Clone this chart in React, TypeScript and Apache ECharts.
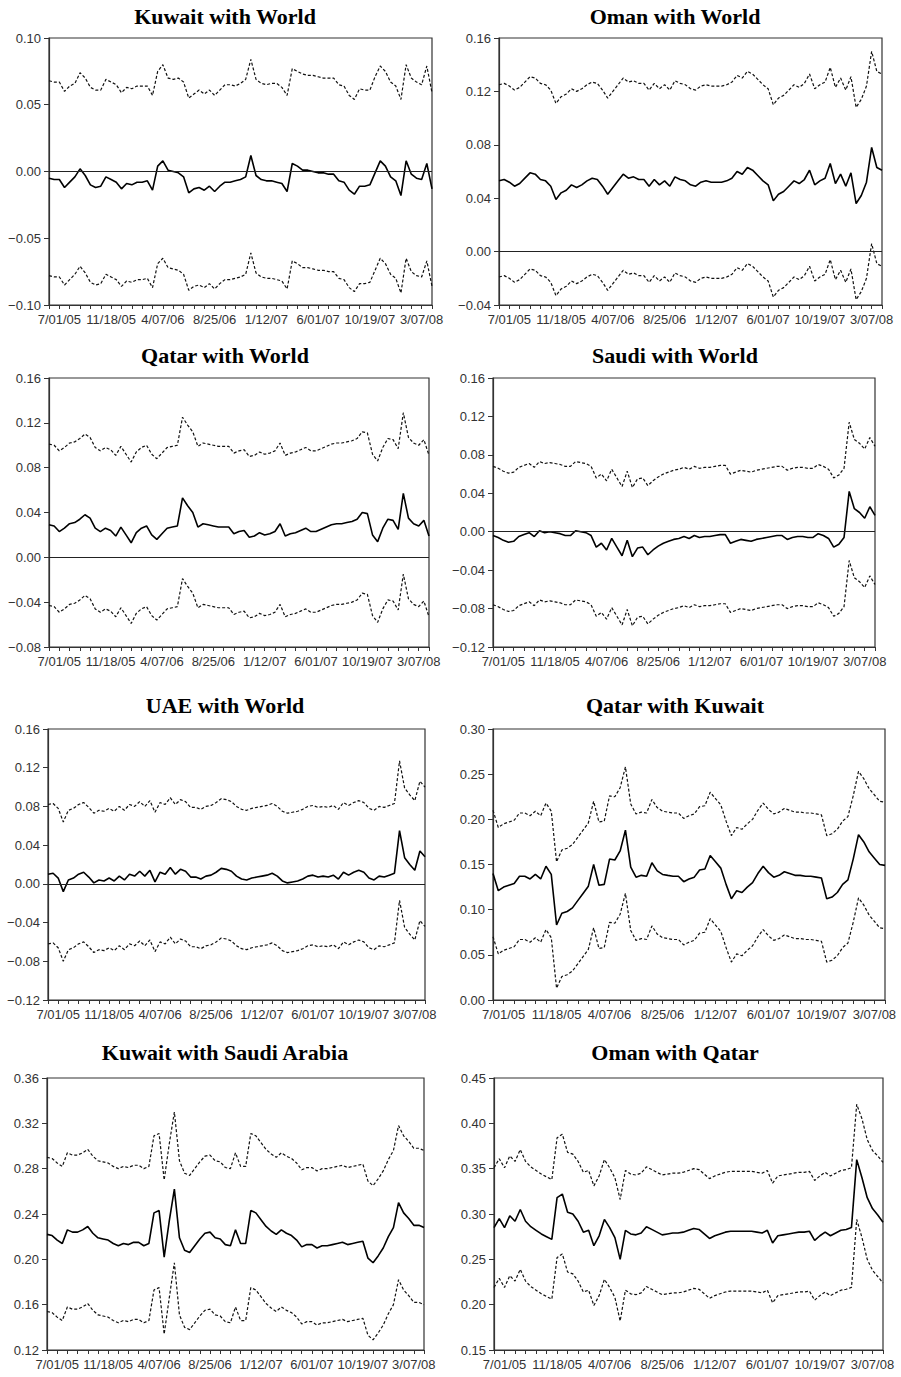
import React, { useEffect, useRef } from "react";
import * as echarts from "echarts";

// ---- x axis: one point every 10 trading days, label every 100 trading days ----
const tickLabels = ["7/01/05", "11/18/05", "4/07/06", "8/25/06", "1/12/07", "6/01/07", "10/19/07", "3/07/08"];
const pointCount = 75;
const firstLabelIndex = 2;
const labelStep = 10;

// ---- Kuwait with World ----
const kwWorldUpper = [0.068,0.067,0.067,0.060,0.064,0.066,0.074,0.070,0.063,0.061,
0.061,0.069,0.067,0.065,0.059,0.063,0.062,0.064,0.064,0.064,
0.057,0.075,0.080,0.070,0.069,0.070,0.067,0.055,0.058,0.061,
0.058,0.061,0.057,0.061,0.065,0.065,0.064,0.066,0.069,0.084,
0.069,0.066,0.065,0.066,0.066,0.063,0.057,0.077,0.075,0.073,
0.072,0.072,0.071,0.070,0.070,0.070,0.065,0.064,0.057,0.054,
0.062,0.061,0.061,0.071,0.079,0.075,0.067,0.064,0.054,0.080,
0.070,0.067,0.065,0.079,0.059];
const kwWorldMid = [-0.005,-0.006,-0.006,-0.012,-0.008,-0.004,0.002,-0.003,-0.010,-0.012,
-0.011,-0.004,-0.006,-0.008,-0.013,-0.009,-0.010,-0.008,-0.008,-0.007,
-0.014,0.004,0.008,0.001,0.000,-0.001,-0.004,-0.016,-0.013,-0.012,
-0.014,-0.011,-0.015,-0.011,-0.008,-0.008,-0.007,-0.006,-0.004,0.012,
-0.003,-0.006,-0.007,-0.007,-0.008,-0.009,-0.015,0.006,0.004,0.001,
0.001,0.000,-0.001,-0.001,-0.002,-0.002,-0.007,-0.008,-0.014,-0.017,
-0.011,-0.011,-0.010,-0.001,0.008,0.004,-0.004,-0.007,-0.018,0.008,
-0.002,-0.005,-0.006,0.006,-0.013];
const kwWorldLower = [-0.078,-0.079,-0.079,-0.085,-0.081,-0.077,-0.071,-0.076,-0.083,-0.085,
-0.084,-0.077,-0.079,-0.081,-0.086,-0.082,-0.083,-0.081,-0.081,-0.080,
-0.087,-0.069,-0.065,-0.072,-0.073,-0.074,-0.077,-0.089,-0.086,-0.085,
-0.087,-0.084,-0.088,-0.084,-0.081,-0.081,-0.080,-0.079,-0.077,-0.061,
-0.076,-0.079,-0.080,-0.080,-0.081,-0.082,-0.088,-0.067,-0.069,-0.072,
-0.072,-0.073,-0.074,-0.074,-0.075,-0.075,-0.080,-0.081,-0.087,-0.090,
-0.084,-0.084,-0.083,-0.074,-0.065,-0.069,-0.077,-0.080,-0.091,-0.065,
-0.075,-0.078,-0.079,-0.067,-0.086];

// ---- Oman with World ----
const omWorldUpper = [0.125,0.126,0.124,0.121,0.123,0.127,0.131,0.130,0.126,0.125,
0.121,0.111,0.116,0.118,0.122,0.120,0.122,0.125,0.127,0.126,
0.121,0.115,0.120,0.125,0.130,0.127,0.128,0.126,0.126,0.121,
0.126,0.122,0.125,0.121,0.128,0.126,0.125,0.122,0.121,0.124,
0.125,0.124,0.124,0.124,0.125,0.127,0.132,0.130,0.135,0.133,
0.129,0.125,0.122,0.110,0.115,0.117,0.121,0.125,0.123,0.126,
0.133,0.122,0.125,0.127,0.138,0.123,0.130,0.121,0.131,0.108,
0.114,0.124,0.150,0.135,0.133];
const omWorldMid = [0.053,0.054,0.052,0.049,0.051,0.055,0.059,0.058,0.054,0.053,
0.049,0.039,0.044,0.046,0.050,0.048,0.050,0.053,0.055,0.054,
0.049,0.043,0.048,0.053,0.058,0.055,0.056,0.054,0.054,0.049,
0.054,0.050,0.053,0.049,0.056,0.054,0.053,0.050,0.049,0.052,
0.053,0.052,0.052,0.052,0.053,0.055,0.060,0.058,0.063,0.061,
0.057,0.053,0.050,0.038,0.043,0.045,0.049,0.053,0.051,0.054,
0.061,0.050,0.053,0.055,0.066,0.051,0.058,0.049,0.059,0.036,
0.042,0.052,0.078,0.063,0.061];
const omWorldLower = [-0.019,-0.018,-0.020,-0.023,-0.021,-0.017,-0.013,-0.014,-0.018,-0.019,
-0.023,-0.033,-0.028,-0.026,-0.022,-0.024,-0.022,-0.019,-0.017,-0.018,
-0.023,-0.029,-0.024,-0.019,-0.014,-0.017,-0.016,-0.018,-0.018,-0.023,
-0.018,-0.022,-0.019,-0.023,-0.016,-0.018,-0.019,-0.022,-0.023,-0.020,
-0.019,-0.020,-0.020,-0.020,-0.019,-0.017,-0.012,-0.014,-0.009,-0.011,
-0.015,-0.019,-0.022,-0.034,-0.029,-0.027,-0.023,-0.019,-0.021,-0.018,
-0.011,-0.022,-0.019,-0.017,-0.006,-0.021,-0.014,-0.023,-0.013,-0.036,
-0.030,-0.020,0.006,-0.009,-0.011];

// ---- Qatar with World ----
const qaWorldUpper = [0.101,0.100,0.095,0.098,0.102,0.103,0.106,0.110,0.107,0.098,
0.095,0.098,0.096,0.091,0.099,0.092,0.085,0.094,0.098,0.100,
0.092,0.088,0.093,0.098,0.099,0.100,0.125,0.118,0.112,0.099,
0.102,0.101,0.100,0.099,0.099,0.099,0.093,0.095,0.096,0.090,
0.091,0.094,0.092,0.093,0.095,0.102,0.091,0.093,0.094,0.096,
0.098,0.095,0.095,0.097,0.099,0.101,0.102,0.102,0.103,0.104,
0.106,0.112,0.111,0.092,0.086,0.098,0.106,0.105,0.097,0.129,
0.107,0.102,0.100,0.105,0.091];
const qaWorldMid = [0.029,0.028,0.023,0.026,0.030,0.031,0.034,0.038,0.035,0.026,
0.023,0.026,0.024,0.019,0.027,0.020,0.013,0.022,0.026,0.028,
0.020,0.016,0.021,0.026,0.027,0.028,0.053,0.046,0.040,0.027,
0.030,0.029,0.028,0.027,0.027,0.027,0.021,0.023,0.024,0.018,
0.019,0.022,0.020,0.021,0.023,0.030,0.019,0.021,0.022,0.024,
0.026,0.023,0.023,0.025,0.027,0.029,0.030,0.030,0.031,0.032,
0.034,0.040,0.039,0.020,0.014,0.026,0.034,0.033,0.025,0.057,
0.035,0.030,0.028,0.033,0.019];
const qaWorldLower = [-0.043,-0.044,-0.049,-0.046,-0.042,-0.041,-0.038,-0.034,-0.037,-0.046,
-0.049,-0.046,-0.048,-0.053,-0.045,-0.052,-0.059,-0.050,-0.046,-0.044,
-0.052,-0.056,-0.051,-0.046,-0.045,-0.044,-0.019,-0.026,-0.032,-0.045,
-0.042,-0.043,-0.044,-0.045,-0.045,-0.045,-0.051,-0.049,-0.048,-0.054,
-0.053,-0.050,-0.052,-0.051,-0.049,-0.042,-0.053,-0.051,-0.050,-0.048,
-0.046,-0.049,-0.049,-0.047,-0.045,-0.043,-0.042,-0.042,-0.041,-0.040,
-0.038,-0.032,-0.033,-0.052,-0.058,-0.046,-0.038,-0.039,-0.047,-0.015,
-0.037,-0.042,-0.044,-0.039,-0.053];

// ---- Saudi with World ----
const saWorldUpper = [0.068,0.066,0.063,0.061,0.062,0.067,0.069,0.071,0.067,0.073,
0.071,0.072,0.071,0.070,0.068,0.068,0.073,0.072,0.071,0.068,
0.056,0.060,0.053,0.065,0.056,0.047,0.063,0.046,0.055,0.056,
0.048,0.053,0.057,0.060,0.062,0.064,0.065,0.067,0.065,0.068,
0.066,0.067,0.067,0.068,0.069,0.069,0.060,0.062,0.064,0.063,
0.062,0.064,0.065,0.066,0.067,0.068,0.068,0.064,0.066,0.067,
0.067,0.066,0.066,0.070,0.068,0.065,0.056,0.059,0.066,0.114,
0.096,0.092,0.086,0.098,0.089];
const saWorldMid = [-0.004,-0.006,-0.009,-0.011,-0.010,-0.005,-0.003,-0.001,-0.005,0.001,
-0.001,0.000,-0.001,-0.002,-0.004,-0.004,0.001,0.000,-0.001,-0.004,
-0.016,-0.012,-0.019,-0.007,-0.016,-0.025,-0.009,-0.026,-0.017,-0.016,
-0.024,-0.019,-0.015,-0.012,-0.010,-0.008,-0.007,-0.005,-0.007,-0.004,
-0.006,-0.005,-0.005,-0.004,-0.003,-0.003,-0.012,-0.010,-0.008,-0.009,
-0.010,-0.008,-0.007,-0.006,-0.005,-0.004,-0.004,-0.008,-0.006,-0.005,
-0.005,-0.006,-0.006,-0.002,-0.004,-0.007,-0.016,-0.013,-0.006,0.042,
0.024,0.020,0.014,0.026,0.017];
const saWorldLower = [-0.076,-0.078,-0.081,-0.083,-0.082,-0.077,-0.075,-0.073,-0.077,-0.071,
-0.073,-0.072,-0.073,-0.074,-0.076,-0.076,-0.071,-0.072,-0.073,-0.076,
-0.088,-0.084,-0.091,-0.079,-0.088,-0.097,-0.081,-0.098,-0.089,-0.088,
-0.096,-0.091,-0.087,-0.084,-0.082,-0.080,-0.079,-0.077,-0.079,-0.076,
-0.078,-0.077,-0.077,-0.076,-0.075,-0.075,-0.084,-0.082,-0.080,-0.081,
-0.082,-0.080,-0.079,-0.078,-0.077,-0.076,-0.076,-0.080,-0.078,-0.077,
-0.077,-0.078,-0.078,-0.074,-0.076,-0.079,-0.088,-0.085,-0.078,-0.030,
-0.048,-0.052,-0.058,-0.046,-0.055];

// ---- UAE with World ----
const uaeWorldUpper = [0.082,0.083,0.078,0.064,0.076,0.078,0.082,0.084,0.079,0.073,
0.076,0.075,0.078,0.075,0.080,0.076,0.082,0.080,0.085,0.080,
0.086,0.074,0.084,0.082,0.089,0.082,0.087,0.085,0.079,0.079,
0.077,0.080,0.081,0.084,0.088,0.087,0.085,0.080,0.077,0.076,
0.078,0.079,0.080,0.081,0.083,0.080,0.075,0.073,0.074,0.075,
0.077,0.080,0.081,0.079,0.080,0.079,0.081,0.077,0.084,0.081,
0.084,0.086,0.084,0.078,0.076,0.080,0.079,0.081,0.083,0.127,
0.099,0.092,0.086,0.106,0.100];
const uaeWorldMid = [0.010,0.011,0.006,-0.008,0.004,0.006,0.010,0.012,0.007,0.001,
0.004,0.003,0.006,0.003,0.008,0.004,0.010,0.008,0.013,0.008,
0.014,0.002,0.012,0.010,0.017,0.010,0.015,0.013,0.007,0.007,
0.005,0.008,0.009,0.012,0.016,0.015,0.013,0.008,0.005,0.004,
0.006,0.007,0.008,0.009,0.011,0.008,0.003,0.001,0.002,0.003,
0.005,0.008,0.009,0.007,0.008,0.007,0.009,0.005,0.012,0.009,
0.012,0.014,0.012,0.006,0.004,0.008,0.007,0.009,0.011,0.055,
0.027,0.020,0.014,0.034,0.028];
const uaeWorldLower = [-0.062,-0.061,-0.066,-0.080,-0.068,-0.066,-0.062,-0.060,-0.065,-0.071,
-0.068,-0.069,-0.066,-0.069,-0.064,-0.068,-0.062,-0.064,-0.059,-0.064,
-0.058,-0.070,-0.060,-0.062,-0.055,-0.062,-0.057,-0.059,-0.065,-0.065,
-0.067,-0.064,-0.063,-0.060,-0.056,-0.057,-0.059,-0.064,-0.067,-0.068,
-0.066,-0.065,-0.064,-0.063,-0.061,-0.064,-0.069,-0.071,-0.070,-0.069,
-0.067,-0.064,-0.063,-0.065,-0.064,-0.065,-0.063,-0.067,-0.060,-0.063,
-0.060,-0.058,-0.060,-0.066,-0.068,-0.064,-0.065,-0.063,-0.061,-0.017,
-0.045,-0.052,-0.058,-0.038,-0.044];

// ---- Qatar with Kuwait ----
const qaKwUpper = [0.210,0.191,0.195,0.197,0.199,0.207,0.207,0.204,0.209,0.204,
0.218,0.209,0.153,0.166,0.168,0.172,0.180,0.188,0.196,0.220,
0.197,0.198,0.226,0.225,0.235,0.258,0.217,0.206,0.208,0.207,
0.222,0.213,0.209,0.208,0.207,0.207,0.201,0.204,0.206,0.214,
0.215,0.230,0.223,0.216,0.198,0.182,0.191,0.189,0.195,0.200,
0.210,0.218,0.211,0.206,0.208,0.212,0.210,0.208,0.208,0.207,
0.207,0.206,0.205,0.182,0.184,0.189,0.198,0.203,0.226,0.253,
0.245,0.234,0.227,0.220,0.219];
const qaKwMid = [0.140,0.121,0.125,0.127,0.129,0.137,0.137,0.134,0.139,0.134,
0.148,0.139,0.083,0.096,0.098,0.102,0.110,0.118,0.126,0.150,
0.127,0.128,0.156,0.155,0.165,0.188,0.147,0.136,0.138,0.137,
0.152,0.143,0.139,0.138,0.137,0.137,0.131,0.134,0.136,0.144,
0.145,0.160,0.153,0.146,0.128,0.112,0.121,0.119,0.125,0.130,
0.140,0.148,0.141,0.136,0.138,0.142,0.140,0.138,0.138,0.137,
0.137,0.136,0.135,0.112,0.114,0.119,0.128,0.133,0.156,0.183,
0.175,0.164,0.157,0.150,0.149];
const qaKwLower = [0.070,0.051,0.055,0.057,0.059,0.067,0.067,0.064,0.069,0.064,
0.078,0.069,0.013,0.026,0.028,0.032,0.040,0.048,0.056,0.080,
0.057,0.058,0.086,0.085,0.095,0.118,0.077,0.066,0.068,0.067,
0.082,0.073,0.069,0.068,0.067,0.067,0.061,0.064,0.066,0.074,
0.075,0.090,0.083,0.076,0.058,0.042,0.051,0.049,0.055,0.060,
0.070,0.078,0.071,0.066,0.068,0.072,0.070,0.068,0.068,0.067,
0.067,0.066,0.065,0.042,0.044,0.049,0.058,0.063,0.086,0.113,
0.105,0.094,0.087,0.080,0.079];

// ---- Kuwait with Saudi Arabia ----
const kwSaUpper = [0.290,0.289,0.285,0.282,0.294,0.292,0.292,0.294,0.297,0.291,
0.287,0.286,0.285,0.282,0.280,0.282,0.281,0.283,0.283,0.280,
0.282,0.309,0.311,0.270,0.302,0.330,0.287,0.276,0.274,0.280,
0.286,0.291,0.292,0.287,0.286,0.281,0.280,0.294,0.282,0.282,
0.311,0.309,0.303,0.297,0.293,0.290,0.294,0.291,0.289,0.285,
0.279,0.281,0.281,0.278,0.280,0.280,0.281,0.282,0.283,0.281,
0.282,0.283,0.284,0.269,0.265,0.271,0.278,0.288,0.296,0.318,
0.309,0.304,0.298,0.298,0.296];
const kwSaMid = [0.222,0.221,0.217,0.214,0.226,0.224,0.224,0.226,0.229,0.223,
0.219,0.218,0.217,0.214,0.212,0.214,0.213,0.215,0.215,0.212,
0.214,0.241,0.243,0.202,0.234,0.262,0.219,0.208,0.206,0.212,
0.218,0.223,0.224,0.219,0.218,0.213,0.212,0.226,0.214,0.214,
0.243,0.241,0.235,0.229,0.225,0.222,0.226,0.223,0.221,0.217,
0.211,0.213,0.213,0.210,0.212,0.212,0.213,0.214,0.215,0.213,
0.214,0.215,0.216,0.201,0.197,0.203,0.210,0.220,0.228,0.250,
0.241,0.236,0.230,0.230,0.228];
const kwSaLower = [0.154,0.153,0.149,0.146,0.158,0.156,0.156,0.158,0.161,0.155,
0.151,0.150,0.149,0.146,0.144,0.146,0.145,0.147,0.147,0.144,
0.146,0.173,0.175,0.134,0.166,0.197,0.151,0.140,0.138,0.144,
0.150,0.155,0.156,0.151,0.150,0.145,0.144,0.158,0.146,0.146,
0.175,0.173,0.167,0.161,0.157,0.154,0.158,0.155,0.153,0.149,
0.143,0.145,0.145,0.142,0.144,0.144,0.145,0.146,0.147,0.145,
0.146,0.147,0.148,0.133,0.129,0.135,0.142,0.152,0.160,0.182,
0.173,0.168,0.162,0.162,0.160];

// ---- Oman with Qatar ----
const omQaUpper = [0.351,0.361,0.351,0.364,0.358,0.371,0.358,0.352,0.348,0.344,
0.341,0.338,0.384,0.388,0.368,0.366,0.358,0.346,0.348,0.331,
0.342,0.360,0.351,0.340,0.316,0.348,0.344,0.343,0.345,0.352,
0.349,0.346,0.343,0.344,0.345,0.345,0.346,0.348,0.350,0.349,
0.344,0.339,0.342,0.344,0.346,0.347,0.347,0.347,0.347,0.347,
0.346,0.345,0.348,0.334,0.342,0.343,0.344,0.345,0.346,0.346,
0.347,0.337,0.342,0.346,0.342,0.345,0.348,0.349,0.351,0.421,
0.405,0.382,0.370,0.364,0.357];
const omQaMid = [0.285,0.295,0.285,0.298,0.292,0.305,0.292,0.286,0.282,0.278,
0.275,0.272,0.318,0.322,0.302,0.300,0.292,0.280,0.282,0.265,
0.276,0.294,0.285,0.274,0.250,0.282,0.278,0.277,0.279,0.286,
0.283,0.280,0.277,0.278,0.279,0.279,0.280,0.282,0.284,0.283,
0.278,0.273,0.276,0.278,0.280,0.281,0.281,0.281,0.281,0.281,
0.280,0.279,0.282,0.268,0.276,0.277,0.278,0.279,0.280,0.280,
0.281,0.271,0.276,0.280,0.276,0.279,0.282,0.283,0.285,0.360,
0.340,0.318,0.306,0.299,0.291];
const omQaLower = [0.219,0.229,0.219,0.232,0.226,0.239,0.226,0.220,0.216,0.212,
0.209,0.206,0.252,0.256,0.236,0.234,0.226,0.214,0.216,0.199,
0.210,0.228,0.219,0.208,0.182,0.216,0.212,0.211,0.213,0.220,
0.217,0.214,0.211,0.212,0.213,0.213,0.214,0.216,0.218,0.217,
0.212,0.207,0.210,0.212,0.214,0.215,0.215,0.215,0.215,0.215,
0.214,0.213,0.216,0.202,0.210,0.211,0.212,0.213,0.214,0.214,
0.215,0.205,0.210,0.214,0.210,0.213,0.216,0.217,0.219,0.294,
0.274,0.250,0.238,0.231,0.224];

// ---- panel definitions (layout + references to the data arrays) ----
type Panel = {
  title: string; upper: number[]; mid: number[]; lower: number[];
  yMin: number; yMax: number; yStep: number; zeroLine: boolean;
  box: [number, number, number, number]; titleX: number; titleY: number;
};

const panels: Panel[] = [
  { title: "Kuwait with World", upper: kwWorldUpper, mid: kwWorldMid, lower: kwWorldLower, yMin: -0.1, yMax: 0.1, yStep: 0.05, zeroLine: true, box: [49, 38, 383, 267], titleX: 225, titleY: 16 },
  { title: "Oman with World", upper: omWorldUpper, mid: omWorldMid, lower: omWorldLower, yMin: -0.04, yMax: 0.16, yStep: 0.04, zeroLine: true, box: [499, 38, 383, 267], titleX: 675, titleY: 16 },
  { title: "Qatar with World", upper: qaWorldUpper, mid: qaWorldMid, lower: qaWorldLower, yMin: -0.08, yMax: 0.16, yStep: 0.04, zeroLine: true, box: [49, 378, 380, 269], titleX: 225, titleY: 355 },
  { title: "Saudi with World", upper: saWorldUpper, mid: saWorldMid, lower: saWorldLower, yMin: -0.12, yMax: 0.16, yStep: 0.04, zeroLine: true, box: [493, 378, 382, 269], titleX: 675, titleY: 355 },
  { title: "UAE with World", upper: uaeWorldUpper, mid: uaeWorldMid, lower: uaeWorldLower, yMin: -0.12, yMax: 0.16, yStep: 0.04, zeroLine: true, box: [48, 729, 377, 271], titleX: 225, titleY: 705 },
  { title: "Qatar with Kuwait", upper: qaKwUpper, mid: qaKwMid, lower: qaKwLower, yMin: 0, yMax: 0.3, yStep: 0.05, zeroLine: false, box: [493, 729, 392, 271], titleX: 675, titleY: 705 },
  { title: "Kuwait with Saudi Arabia", upper: kwSaUpper, mid: kwSaMid, lower: kwSaLower, yMin: 0.12, yMax: 0.36, yStep: 0.04, zeroLine: false, box: [47, 1078, 377, 272], titleX: 225, titleY: 1052 },
  { title: "Oman with Qatar", upper: omQaUpper, mid: omQaMid, lower: omQaLower, yMin: 0.15, yMax: 0.45, yStep: 0.05, zeroLine: false, box: [494, 1078, 389, 272], titleX: 675, titleY: 1052 },
];

const categories = Array.from({ length: pointCount }, (_, i) => "p" + i);
const isLabelIndex = (i: number) => i >= firstLabelIndex && (i - firstLabelIndex) % labelStep === 0;
const labelFor = (i: number) => (isLabelIndex(i) ? tickLabels[(i - firstLabelIndex) / labelStep] || "" : "");

const LABEL_FONT = 'Arial, "Liberation Sans", Helvetica, sans-serif';
const TITLE_FONT = 'bold 22px "Liberation Serif", "Times New Roman", Times, serif';
const AXIS_COLOR = "#333";

function buildOption() {
  const grid = panels.map((p) => ({
    left: p.box[0], top: p.box[1], width: p.box[2], height: p.box[3],
    show: true, borderColor: AXIS_COLOR, borderWidth: 1.2, backgroundColor: "transparent",
    containLabel: false, outerBoundsMode: "none",
  }));
  const xAxis = panels.map((_, i) => ({
    gridIndex: i, type: "category", data: categories, boundaryGap: false,
    axisLine: { show: true, onZero: false, lineStyle: { color: AXIS_COLOR, width: 1.2 } },
    axisTick: { show: true, inside: false, length: 4, interval: (idx: number) => idx % 2 === 0, lineStyle: { color: AXIS_COLOR, width: 1 } },
    axisLabel: {
      show: true, interval: (idx: number) => isLabelIndex(idx),
      formatter: (_v: string, idx: number) => labelFor(idx),
      fontSize: 13, fontFamily: LABEL_FONT, color: "#333", margin: 8,
    },
    splitLine: { show: false },
  }));
  const yAxis = panels.map((p, i) => ({
    gridIndex: i, type: "value", min: p.yMin, max: p.yMax, interval: p.yStep,
    axisLine: { show: true, onZero: false, lineStyle: { color: AXIS_COLOR, width: 1.2 } },
    axisTick: { show: true, inside: false, length: 5, lineStyle: { color: AXIS_COLOR, width: 1 } },
    axisLabel: {
      fontSize: 13, fontFamily: LABEL_FONT, color: "#333", margin: 8,
      formatter: (v: number) => (v < -1e-9 ? "\u2212" : "") + Math.abs(v).toFixed(2),
    },
    splitLine: { show: false },
  }));
  const series: any[] = [];
  panels.forEach((p, i) => {
    series.push({
      type: "line", xAxisIndex: i, yAxisIndex: i, data: p.upper, symbol: "none", showSymbol: false, silent: true,
      lineStyle: { color: "#111", width: 1.2, type: [3, 2] },
    });
    series.push({
      type: "line", xAxisIndex: i, yAxisIndex: i, data: p.mid, symbol: "none", showSymbol: false, silent: true,
      lineStyle: { color: "#000", width: 1.6, type: "solid" },
      markLine: p.zeroLine
        ? {
            silent: true, symbol: ["none", "none"], label: { show: false },
            lineStyle: { color: "#222", width: 1.2, type: "solid" },
            data: [{ yAxis: 0 }],
          }
        : undefined,
    });
    series.push({
      type: "line", xAxisIndex: i, yAxisIndex: i, data: p.lower, symbol: "none", showSymbol: false, silent: true,
      lineStyle: { color: "#111", width: 1.2, type: [3, 2] },
    });
  });
  const graphic = panels.map((p) => ({
    type: "text", x: p.titleX, y: p.titleY, silent: true,
    style: { text: p.title, font: TITLE_FONT, fill: "#000", textAlign: "center", textVerticalAlign: "middle" },
  }));
  return { animation: false, backgroundColor: "#fff", grid, xAxis, yAxis, series, graphic };
}

export default function App() {
  const ref = useRef<HTMLDivElement>(null);
  useEffect(() => {
    if (!ref.current) return;
    const chart = echarts.init(ref.current, undefined, { renderer: "svg" });
    chart.setOption(buildOption() as any);
    return () => chart.dispose();
  }, []);
  return (
    <div
      ref={ref}
      style={{ position: "absolute", left: 0, top: 0, width: 901, height: 1377, background: "#fff" }}
    />
  );
}
